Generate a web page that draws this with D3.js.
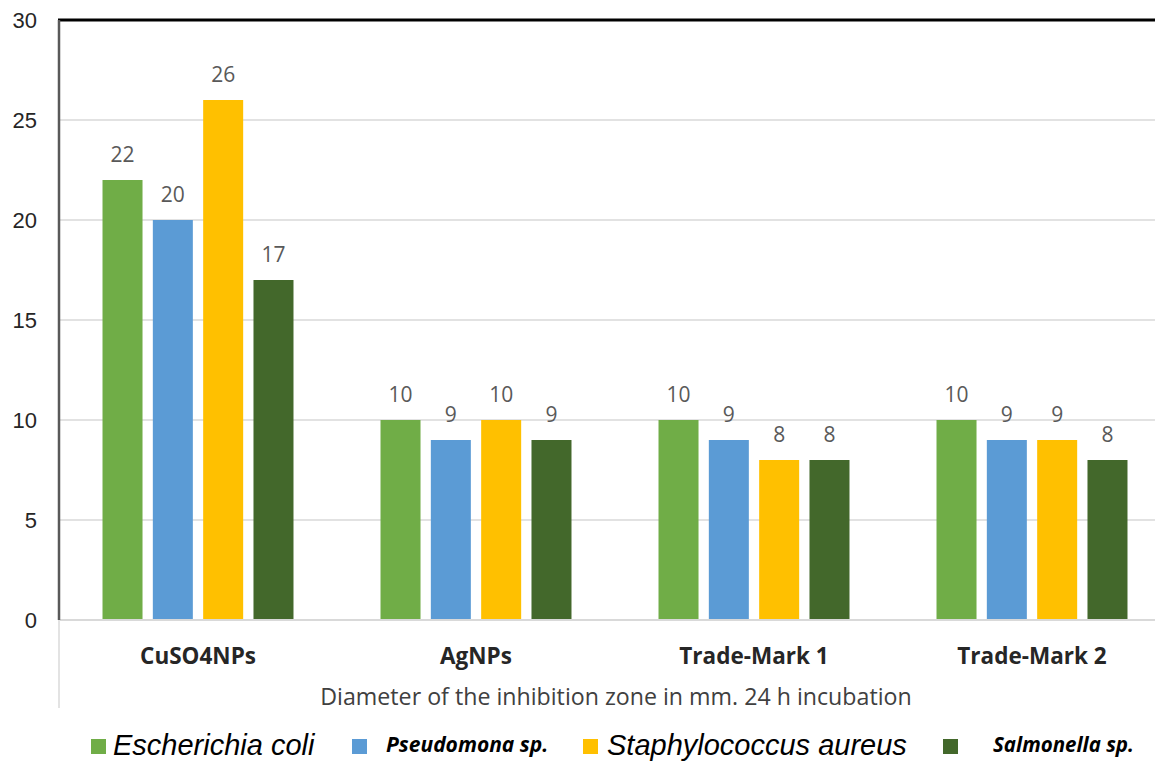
<!DOCTYPE html>
<html>
<head>
<meta charset="utf-8">
<script src="https://cdn.jsdelivr.net/npm/d3@7"></script>
<style>
  html, body { margin: 0; padding: 0; background: #ffffff; }
  svg { display: block; }
</style>
</head>
<body>
<svg id="chart" width="1155" height="761"></svg>
<script>
// Inhibition zone diameters (mm) after 24 h incubation
const categories = ["CuSO4NPs", "AgNPs", "Trade-Mark 1", "Trade-Mark 2"];
const seriesNames = ["Escherichia coli", "Pseudomona sp.", "Staphylococcus aureus", "Salmonella sp."];
const ecoliValues = [22, 10, 10, 10];
const pseudomonaValues = [20, 9, 9, 9];
const staphValues = [26, 10, 8, 9];
const salmonellaValues = [17, 9, 8, 8];
const yTicks = [0, 5, 10, 15, 20, 25, 30];
const axisTitle = "Diameter of the inhibition zone in mm. 24 h incubation";

const seriesValues = [ecoliValues, pseudomonaValues, staphValues, salmonellaValues];
const colors = ["#70ad47", "#5b9bd5", "#ffc000", "#43682b"];

const svg = d3.select("#chart");
svg.append("rect").attr("width", 1155).attr("height", 761).attr("fill", "#ffffff");

const plotLeft = 59, plotTop = 20, plotBottom = 620;

const y = d3.scaleLinear().domain([0, 30]).range([plotBottom, plotTop]);
const x0 = d3.scaleBand().domain(categories).range([plotLeft, 1171])
  .paddingInner(0.313).paddingOuter(0.1565);
const x1 = d3.scaleBand().domain(seriesNames).range([0, x0.bandwidth()])
  .paddingInner(0.205).paddingOuter(0);
const color = d3.scaleOrdinal().domain(seriesNames).range(colors);

// horizontal gridlines
svg.append("g")
  .selectAll("line")
  .data(yTicks.filter(t => t > 0 && t < 30))
  .join("line")
  .attr("x1", plotLeft).attr("x2", 1155)
  .attr("y1", d => y(d)).attr("y2", d => y(d))
  .attr("stroke", "#d9d9d9").attr("stroke-width", 1.5);

// y tick labels
const yAxis = d3.axisLeft(y).tickValues(yTicks).tickSize(0).tickPadding(22);
const yg = svg.append("g").attr("transform", `translate(${plotLeft},0)`).call(yAxis);
yg.select(".domain").remove();
yg.selectAll("text")
  .attr("font-family", "Liberation Sans, Arial, sans-serif")
  .attr("font-size", 22)
  .attr("fill", "#262626");

// bars
const rows = categories.map((c, i) => ({
  category: c,
  values: seriesNames.map((s, j) => ({ series: s, value: seriesValues[j][i] }))
}));

const groups = svg.append("g")
  .selectAll("g")
  .data(rows)
  .join("g")
  .attr("transform", d => `translate(${x0(d.category)},0)`);

groups.selectAll("rect")
  .data(d => d.values)
  .join("rect")
  .attr("x", d => x1(d.series))
  .attr("y", d => y(d.value))
  .attr("width", x1.bandwidth())
  .attr("height", d => y(0) - y(d.value))
  .attr("fill", d => color(d.series));

// value labels
groups.selectAll("text")
  .data(d => d.values)
  .join("text")
  .attr("x", d => x1(d.series) + x1.bandwidth() / 2)
  .attr("y", d => y(d.value) - 18)
  .attr("text-anchor", "middle")
  .attr("font-family", "Open Sans, sans-serif")
  .attr("font-size", 21)
  .attr("fill", "#595959")
  .text(d => d.value);

// baseline
svg.append("line")
  .attr("x1", plotLeft).attr("x2", 1155)
  .attr("y1", y(0)).attr("y2", y(0))
  .attr("stroke", "#d9d9d9").attr("stroke-width", 2);

// frame: top border and left axis
svg.append("line")
  .attr("x1", plotLeft - 1).attr("x2", 1155)
  .attr("y1", plotTop).attr("y2", plotTop)
  .attr("stroke", "#000000").attr("stroke-width", 3);
svg.append("line")
  .attr("x1", plotLeft).attr("x2", plotLeft)
  .attr("y1", plotTop).attr("y2", plotBottom)
  .attr("stroke", "#595959").attr("stroke-width", 2.5);
svg.append("line")
  .attr("x1", plotLeft).attr("x2", plotLeft)
  .attr("y1", plotBottom).attr("y2", 708)
  .attr("stroke", "#e3e3e3").attr("stroke-width", 2);

// category labels
svg.append("g")
  .selectAll("text")
  .data(categories)
  .join("text")
  .attr("x", d => x0(d) + x0.bandwidth() / 2)
  .attr("y", 664)
  .attr("text-anchor", "middle")
  .attr("font-family", "Open Sans, sans-serif")
  .attr("font-weight", "bold")
  .attr("font-size", 22.5)
  .attr("fill", "#262626")
  .text(d => d);

// axis title
svg.append("text")
  .attr("x", 616)
  .attr("y", 705)
  .attr("text-anchor", "middle")
  .attr("font-family", "Open Sans, sans-serif")
  .attr("font-size", 23.2)
  .attr("fill", "#404040")
  .text(axisTitle);

// legend
const legendItems = [
  { name: seriesNames[0], sx: 91, tx: 113, size: 29, weight: "normal", family: "Liberation Sans, Arial, sans-serif", base: 755 },
  { name: seriesNames[1], sx: 352, tx: 386, size: 21, weight: "bold", family: "Open Sans, sans-serif", base: 752 },
  { name: seriesNames[2], sx: 583, tx: 607, size: 29, weight: "normal", family: "Liberation Sans, Arial, sans-serif", base: 755 },
  { name: seriesNames[3], sx: 943, tx: 993, size: 20.5, weight: "bold", family: "Open Sans, sans-serif", base: 752 }
];
const legend = svg.append("g");
legend.selectAll("rect")
  .data(legendItems)
  .join("rect")
  .attr("x", d => d.sx).attr("y", 739)
  .attr("width", 15).attr("height", 15)
  .attr("fill", d => color(d.name));
legend.selectAll("text")
  .data(legendItems)
  .join("text")
  .attr("x", d => d.tx).attr("y", d => d.base)
  .attr("font-family", d => d.family)
  .attr("font-size", d => d.size)
  .attr("font-weight", d => d.weight)
  .attr("font-style", "italic")
  .attr("fill", "#000000")
  .text(d => d.name);
</script>
</body>
</html>
